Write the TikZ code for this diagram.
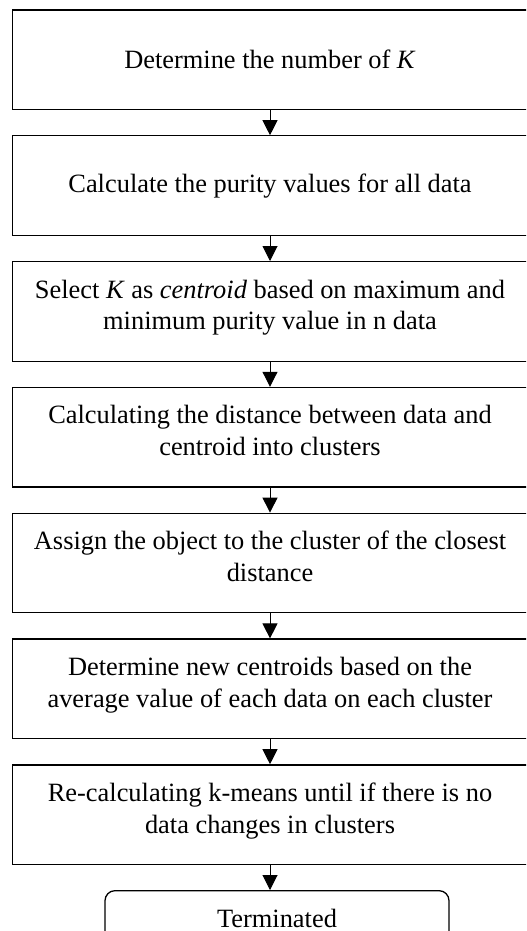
\documentclass[tikz,border=0pt]{standalone}
\usepackage{fontspec}
\setmainfont{Liberation Serif}
\usetikzlibrary{arrows.meta,positioning}

\begin{document}
\begin{tikzpicture}[
        font=\fontsize{13.2}{15.85}\selectfont,
        box/.style={draw, line width=0.65pt, align=center, inner sep=0pt, minimum width=257.2pt, minimum height=49.75pt},
        twoline/.style={text depth=6.6pt},
        term/.style={draw, line width=0.65pt, rounded corners=5pt, inner sep=0pt, minimum width=172pt, minimum height=28pt},
        arr/.style={-{Triangle[length=7.5pt, width=7.5pt]}, line width=0.5pt}
    ]
        \useasboundingbox (0,0) rectangle (263pt,-465.5pt);
        \clip (0,0) rectangle (263pt,-465.5pt);
        \node[box] (num) at (135pt,-29.9pt) {Determine the number of \textit{K}};
        \node[box, below=12.5pt of num] (pur) {Calculate the purity values for all data};
        \node[box, twoline, below=12.5pt of pur] (sel) {Select \textit{K} as \textit{centroid} based on maximum and\\minimum purity value in n data};
        \node[box, twoline, below=12.5pt of sel] (dist) {Calculating the distance between data and\\centroid into clusters};
        \node[box, twoline, below=12.5pt of dist] (assign) {Assign the object to the cluster of the closest\\distance};
        \node[box, twoline, below=12.5pt of assign] (newc) {Determine new centroids based on the\\average value of each data on each cluster};
        \node[box, twoline, below=12.5pt of newc] (recalc) {Re-calculating k-means until if there is no\\data changes in clusters};
        \node[term, below=12.5pt of recalc, xshift=3.5pt] (term) {Terminated};
        \draw[arr] (num) -- (pur);
        \draw[arr] (pur) -- (sel);
        \draw[arr] (sel) -- (dist);
        \draw[arr] (dist) -- (assign);
        \draw[arr] (assign) -- (newc);
        \draw[arr] (newc) -- (recalc);
        \draw[arr] (recalc.south) -- (recalc.south |- term.north);
    \end{tikzpicture}
\end{document}
